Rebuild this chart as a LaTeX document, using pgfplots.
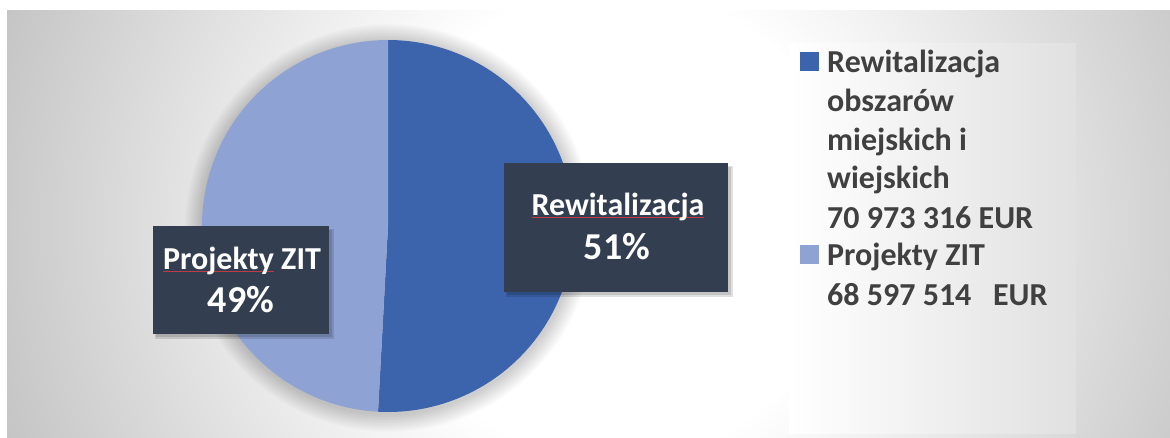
\documentclass[border=0pt]{standalone}
\usepackage{pgfplots}
\pgfplotsset{compat=1.18}
\usepackage{pgfplotstable}
\usepackage{fontspec}
\setmainfont{Carlito}

\definecolor{rewit}{RGB}{59,100,173}
\definecolor{zit}{RGB}{143,162,212}
\definecolor{boxc}{RGB}{51,62,80}
\definecolor{legtext}{RGB}{64,64,64}
\definecolor{bgedge}{RGB}{196,196,196}
\definecolor{spell}{RGB}{190,60,70}
\pgfdeclareradialshading{bgshade}{\pgfpoint{0bp}{0bp}}{color(0bp)=(white); color(9bp)=(white); color(25bp)=(bgedge); color(50bp)=(bgedge)}

% values in EUR
\pgfplotstableread{
name value
Rewitalizacja 70973316
ZIT 68597514
}\piedata

\newcommand\lbl{\fontsize{32}{38}\selectfont\bfseries}
\newcommand\pct{\fontsize{38}{44}\selectfont\bfseries}
\newcommand\redul[1]{\setbox0\hbox{#1}\rlap{\color{spell}\rule[-3pt]{\wd0}{0.8pt}}\box0\relax}

\begin{document}
\begin{tikzpicture}
\pgfplotstablegetelem{0}{value}\of\piedata \let\va\pgfplotsretval
\pgfplotstablegetelem{1}{value}\of\piedata \let\vb\pgfplotsretval
\begingroup
\pgfkeys{/pgf/fpu=true,/pgf/fpu/output format=fixed}
\pgfmathparse{360*\va/(\va+\vb)}\xdef\angA{\pgfmathresult}
\pgfmathparse{100*\va/(\va+\vb)}\xdef\pctA{\pgfmathresult}
\pgfmathparse{100*\vb/(\va+\vb)}\xdef\pctB{\pgfmathresult}
\endgroup

\begin{axis}[
    width=1170pt, height=437pt, scale only axis,
    xmin=0, xmax=1170, ymin=0, ymax=437,
    y dir=reverse,
    hide axis, clip=false,
]
\path (axis cs:0,0) rectangle (axis cs:1170,437);
% chart area
\fill[bgedge] (axis cs:7,10) rectangle (axis cs:1170,437);
\begin{scope}
  \clip (axis cs:7,10) rectangle (axis cs:1170,437);
  \shade[shading=bgshade] (axis cs:615,223) circle[radius=650pt];
\end{scope}

% soft shadow round the pie
\pgfplotsinvokeforeach{1,...,12}{
  \fill[black,opacity=0.016] (axis cs:389,228) circle[radius={186pt+#1*1.5pt}];
}

% slices, clockwise from the top
\addplot[fill=rewit, draw=none, domain=0:\angA, samples=120, variable=\t]
  ({388+186*sin(t)},{226-186*cos(t)}) -- (axis cs:388,226) -- cycle;
\addplot[fill=zit, draw=none, domain=\angA:360, samples=120, variable=\t]
  ({388+186*sin(t)},{226-186*cos(t)}) -- (axis cs:388,226) -- cycle;

% data labels
\fill[black,opacity=0.12] (axis cs:155,229) rectangle (axis cs:334,339);
\fill[black,opacity=0.12] (axis cs:156,230) rectangle (axis cs:332,337);
\fill[boxc] (axis cs:153,226) rectangle (axis cs:329,334);
\fill[black,opacity=0.12] (axis cs:506,166) rectangle (axis cs:733,297);
\fill[black,opacity=0.12] (axis cs:507,167) rectangle (axis cs:731,295);
\fill[boxc] (axis cs:504,163) rectangle (axis cs:728,292);

\begin{scope}[every node/.style={anchor=base, inner sep=0, text=white, font=\lbl}]
\node at (axis cs:618,215) {\redul{Rewitalizacja}};
\node[font=\pct] at (axis cs:617,259) {\pgfmathprintnumber[fixed,precision=0,assume math mode=true]{\pctA}\%};
\node at (axis cs:242,269) {\redul{Projekty} ZIT};
\node[font=\pct] at (axis cs:241,312) {\pgfmathprintnumber[fixed,precision=0,assume math mode=true]{\pctB}\%};
\end{scope}

% legend
\shade[left color=white, right color=black!12] (axis cs:789,43) rectangle (axis cs:1076,433);
\fill[rewit] (axis cs:800,52) rectangle (axis cs:819,71);
\fill[zit] (axis cs:800,245) rectangle (axis cs:819,264);
\begin{scope}[every node/.style={anchor=base west, inner sep=0, text=legtext, font=\lbl}]
\node at (axis cs:827,72) {Rewitalizacja};
\node at (axis cs:827,111) {obszarów};
\node at (axis cs:827,150) {miejskich i};
\node at (axis cs:827,188) {wiejskich};
\node at (axis cs:827,228) {70 973 316 EUR};
\node at (axis cs:827,265) {Projekty ZIT};
\node at (axis cs:827,305) {68 597 514\hspace{0.45em} EUR};
\end{scope}
\end{axis}
\end{tikzpicture}
\end{document}
